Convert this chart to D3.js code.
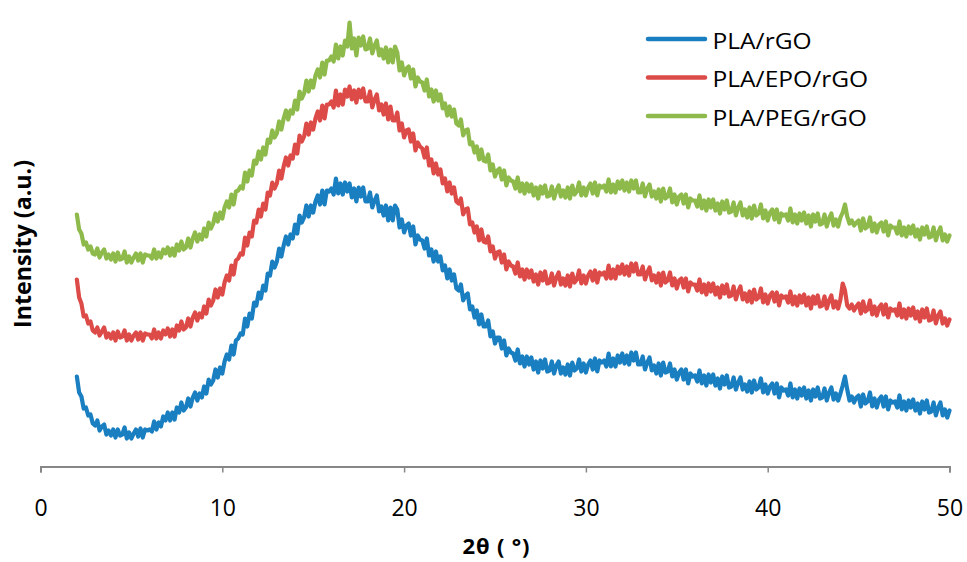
<!DOCTYPE html>
<html>
<head>
<meta charset="utf-8">
<script src="https://cdn.jsdelivr.net/npm/d3@7"></script>
<style>
  html, body { margin: 0; padding: 0; background: #fff; }
  svg { display: block; }
</style>
</head>
<body>
<svg id="chart" width="967" height="562"></svg>
<script>
// XRD scan: 2θ from 2° to 50°, step 0.125° (eight readings per degree)
const angleStart = 2;
const angleStep = 0.125;

const seriesNames = ["PLA/rGO", "PLA/EPO/rGO", "PLA/PEG/rGO"];
const seriesColors = ["#1a7fc1", "#dc4b48", "#8dba4b"];

// Intensity (a.u.); each row holds one degree of the scan
const plaRgo = [
  90, 74, 70, 58, 59, 51, 52, 43,
  41, 46, 36, 40, 42, 32, 36, 31,
  37, 29, 37, 31, 32, 39, 28, 34,
  28, 33, 37, 30, 38, 29, 37, 36,
  37, 35, 45, 37, 44, 40, 50, 46,
  54, 46, 54, 47, 59, 54, 64, 56,
  59, 68, 60, 69, 74, 66, 73, 69,
  80, 73, 87, 82, 86, 97, 89, 99,
  93, 105, 112, 107, 121, 112, 126, 128,
  133, 132, 148, 140, 153, 148, 164, 161,
  174, 168, 181, 176, 193, 191, 205, 199,
  205, 218, 210, 221, 230, 222, 232, 228,
  242, 233, 251, 244, 249, 261, 250, 261,
  254, 265, 271, 262, 276, 262, 276, 275,
  278, 272, 288, 273, 283, 272, 284, 275,
  283, 269, 278, 265, 279, 270, 279, 265,
  265, 274, 259, 266, 271, 255, 260, 251,
  261, 246, 259, 246, 261, 257, 239, 247,
  234, 241, 243, 231, 240, 222, 231, 227,
  226, 218, 228, 211, 217, 205, 215, 205,
  210, 196, 201, 188, 197, 186, 192, 178,
  176, 182, 166, 171, 173, 157, 160, 149,
  156, 142, 152, 140, 140, 146, 130, 135,
  123, 129, 129, 118, 126, 111, 118, 114,
  113, 106, 117, 103, 110, 100, 110, 102,
  109, 97, 105, 94, 106, 98, 107, 95,
  96, 105, 93, 101, 105, 93, 99, 92,
  102, 91, 104, 96, 98, 107, 95, 103,
  94, 102, 106, 97, 108, 95, 106, 104,
  106, 100, 113, 100, 108, 100, 111, 104,
  113, 103, 111, 102, 114, 106, 114, 102,
  102, 110, 97, 104, 109, 96, 101, 93,
  103, 91, 104, 94, 95, 103, 90, 97,
  87, 94, 97, 87, 97, 83, 93, 90,
  91, 85, 96, 83, 91, 81, 92, 84,
  92, 81, 88, 78, 90, 82, 91, 79,
  80, 89, 77, 84, 89, 77, 82, 75,
  85, 74, 86, 77, 79, 88, 74, 82,
  73, 80, 83, 73, 83, 69, 79, 76,
  77, 71, 83, 69, 77, 68, 78, 71,
  79, 68, 76, 66, 77, 70, 79, 68,
  69, 78, 66, 74, 79, 67, 73, 66,
  73, 81, 90, 77, 66, 70, 64, 69,
  71, 60, 72, 63, 65, 74, 60, 68,
  59, 67, 70, 60, 70, 57, 66, 64,
  65, 59, 71, 57, 65, 56, 66, 59,
  67, 56, 63, 53, 65, 57, 66, 54,
  55, 64, 51, 59, 64, 51, 57, 49,
  56
];

const plaEpoRgo = [
  187, 169, 163, 150, 151, 143, 145, 136,
  134, 139, 131, 135, 139, 129, 133, 128,
  134, 126, 135, 129, 130, 136, 126, 132,
  126, 131, 134, 127, 134, 126, 133, 132,
  132, 128, 137, 128, 134, 128, 136, 132,
  138, 130, 137, 130, 141, 136, 145, 137,
  139, 148, 140, 149, 154, 146, 153, 149,
  160, 153, 167, 161, 166, 177, 169, 178,
  172, 184, 191, 186, 201, 192, 206, 208,
  213, 212, 229, 221, 234, 230, 246, 244,
  257, 250, 263, 257, 274, 271, 284, 278,
  283, 296, 288, 300, 309, 301, 311, 308,
  322, 313, 331, 325, 330, 343, 332, 344,
  337, 348, 355, 346, 361, 348, 362, 362,
  365, 359, 376, 361, 372, 362, 377, 370,
  380, 367, 376, 364, 377, 369, 378, 365,
  365, 375, 359, 367, 372, 356, 362, 352,
  363, 347, 360, 346, 346, 354, 336, 343,
  329, 336, 337, 325, 333, 316, 324, 320,
  318, 309, 319, 301, 307, 293, 303, 292,
  297, 283, 288, 275, 284, 273, 279, 265,
  263, 268, 252, 257, 258, 242, 244, 234,
  240, 226, 237, 225, 224, 230, 215, 220,
  208, 214, 215, 204, 212, 197, 205, 201,
  200, 193, 204, 190, 197, 187, 197, 189,
  196, 185, 192, 182, 194, 186, 195, 183,
  184, 193, 181, 189, 194, 182, 188, 181,
  191, 180, 193, 184, 187, 196, 183, 191,
  183, 191, 195, 186, 196, 184, 194, 192,
  194, 188, 201, 188, 197, 188, 200, 193,
  202, 192, 200, 191, 203, 195, 203, 192,
  192, 200, 187, 194, 199, 186, 191, 184,
  193, 181, 194, 184, 186, 194, 181, 188,
  178, 186, 188, 179, 188, 175, 184, 182,
  182, 176, 187, 174, 182, 172, 183, 175,
  183, 172, 179, 169, 181, 173, 182, 170,
  171, 180, 167, 175, 180, 167, 173, 165,
  175, 164, 177, 167, 169, 178, 164, 172,
  163, 171, 174, 165, 174, 161, 171, 169,
  170, 164, 175, 162, 170, 161, 171, 164,
  172, 161, 169, 158, 170, 163, 171, 160,
  161, 170, 158, 166, 171, 159, 165, 158,
  167, 183, 176, 161, 158, 162, 156, 160,
  163, 153, 165, 155, 157, 166, 152, 160,
  151, 159, 162, 152, 162, 149, 158, 156,
  157, 151, 163, 149, 157, 148, 158, 151,
  159, 148, 155, 145, 157, 149, 158, 146,
  147, 156, 143, 151, 155, 143, 148, 141,
  147
];

const plaPegRgo = [
  252, 237, 233, 222, 224, 217, 220, 213,
  212, 218, 209, 214, 217, 208, 212, 207,
  213, 205, 214, 207, 208, 215, 204, 210,
  204, 209, 213, 206, 213, 204, 212, 211,
  211, 208, 217, 208, 214, 209, 217, 213,
  219, 211, 218, 211, 222, 216, 225, 217,
  219, 228, 219, 228, 234, 225, 232, 227,
  238, 230, 244, 238, 243, 253, 245, 254,
  248, 259, 265, 259, 272, 262, 275, 276,
  280, 278, 294, 285, 296, 291, 306, 303,
  315, 307, 319, 312, 327, 324, 336, 329,
  333, 345, 337, 348, 356, 347, 356, 353,
  366, 357, 375, 368, 373, 386, 375, 386,
  379, 391, 397, 389, 404, 392, 406, 406,
  410, 405, 422, 408, 420, 411, 426, 420,
  444, 418, 428, 411, 429, 421, 430, 417,
  418, 428, 413, 421, 426, 411, 417, 408,
  419, 404, 417, 404, 420, 414, 396, 404,
  391, 398, 400, 388, 397, 380, 389, 385,
  384, 376, 387, 370, 377, 365, 376, 366,
  372, 358, 363, 351, 360, 350, 357, 343,
  341, 347, 331, 336, 337, 322, 324, 314,
  320, 307, 317, 306, 305, 312, 296, 302,
  290, 296, 298, 287, 296, 281, 289, 286,
  285, 278, 289, 275, 283, 273, 283, 275,
  282, 271, 279, 268, 280, 273, 281, 270,
  271, 280, 268, 276, 281, 270, 276, 269,
  279, 268, 281, 272, 275, 284, 271, 279,
  271, 279, 283, 273, 284, 271, 281, 279,
  281, 275, 287, 274, 282, 274, 285, 278,
  286, 276, 284, 275, 286, 278, 286, 274,
  274, 283, 270, 278, 282, 270, 275, 268,
  277, 265, 278, 268, 270, 278, 264, 272,
  262, 270, 272, 263, 272, 259, 268, 266,
  266, 260, 271, 258, 266, 256, 267, 259,
  267, 256, 263, 253, 265, 257, 266, 254,
  255, 264, 251, 259, 264, 251, 257, 249,
  259, 248, 261, 251, 253, 262, 248, 256,
  246, 254, 257, 247, 257, 244, 253, 251,
  252, 246, 258, 244, 252, 243, 253, 246,
  254, 243, 251, 240, 252, 245, 253, 242,
  243, 252, 240, 248, 253, 241, 247, 240,
  249, 254, 262, 250, 243, 246, 241, 244,
  246, 236, 248, 238, 240, 249, 235, 243,
  234, 242, 244, 235, 245, 231, 241, 239,
  239, 233, 245, 231, 239, 230, 240, 233,
  241, 230, 237, 227, 239, 232, 240, 229,
  230, 239, 226, 234, 239, 226, 232, 225,
  231
];

const xTicks = [0, 10, 20, 30, 40, 50];

const svg = d3.select("#chart");

const x = d3.scaleLinear().domain([0, 50]).range([40.5, 949.5]);
const y = d3.scaleLinear().domain([0, 450]).range([466.5, 16.5]);

// Diffraction curves
const allSeries = [plaRgo, plaEpoRgo, plaPegRgo];
const line = d3.line()
  .x((d, i) => x(angleStart + i * angleStep))
  .y(d => y(d));

svg.append("g")
  .selectAll("path")
  .data(allSeries)
  .join("path")
  .attr("d", d => line(d))
  .attr("fill", "none")
  .attr("stroke", (d, i) => seriesColors[i])
  .attr("stroke-width", 4.2)
  .attr("stroke-linejoin", "round")
  .attr("stroke-linecap", "round");

// X axis
const xAxis = d3.axisBottom(x)
  .tickValues(xTicks)
  .tickSize(6)
  .tickPadding(27)
  .tickFormat(d3.format("d"));

const gx = svg.append("g")
  .attr("transform", `translate(0,${y(0)})`)
  .call(xAxis);
gx.select(".domain").attr("stroke", "#878787").attr("stroke-width", 2);
gx.selectAll(".tick line").attr("stroke", "#878787").attr("stroke-width", 1.5);
gx.selectAll(".tick text")
  .attr("fill", "#000")
  .style("font-family", "'Open Sans', sans-serif")
  .style("font-size", "23px");

// Axis titles
svg.append("text")
  .attr("x", 496)
  .attr("y", 554)
  .attr("text-anchor", "middle")
  .attr("textLength", 67)
  .attr("lengthAdjust", "spacing")
  .style("font-family", "'Open Sans', sans-serif")
  .style("font-weight", "bold")
  .style("font-size", "22px")
  .text("2θ ( °)");

svg.append("text")
  .attr("transform", "translate(31,244) rotate(-90)")
  .attr("text-anchor", "middle")
  .attr("textLength", 168)
  .attr("lengthAdjust", "spacingAndGlyphs")
  .style("font-family", "'Open Sans', sans-serif")
  .style("font-weight", "bold")
  .style("font-size", "24px")
  .text("Intensity (a.u.)");

// Legend
const legend = svg.append("g").attr("transform", "translate(648,39)");
const rows = legend.selectAll("g")
  .data(seriesNames)
  .join("g")
  .attr("transform", (d, i) => `translate(0,${i * 38.5})`);
rows.append("line")
  .attr("x1", 0).attr("x2", 57)
  .attr("y1", 0).attr("y2", 0)
  .attr("stroke", (d, i) => seriesColors[i])
  .attr("stroke-width", 4.5)
  .attr("stroke-linecap", "round");
rows.append("text")
  .attr("transform", "translate(64.5,9.5) scale(1.17,1)")
  .style("font-family", "'Open Sans', sans-serif")
  .style("font-size", "21px")
  .attr("fill", "#000")
  .text(d => d);
</script>
</body>
</html>
